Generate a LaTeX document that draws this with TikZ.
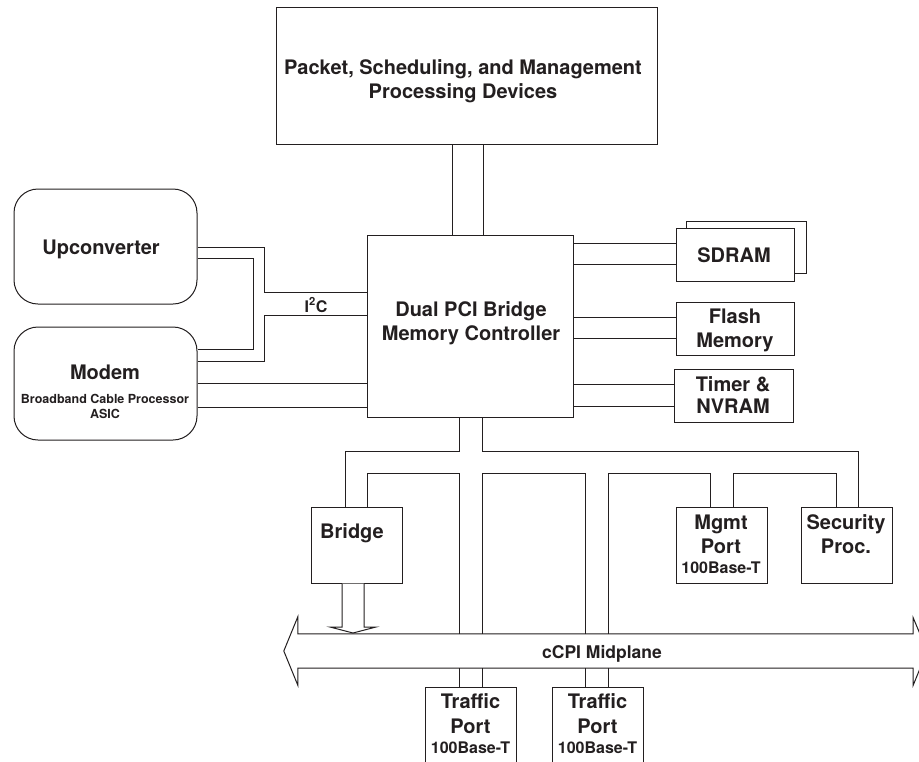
\documentclass[tikz,border=0pt]{standalone}
\usepackage{fontspec}
\setmainfont{TeX Gyre Heros}
\usetikzlibrary{calc}
\definecolor{ink}{RGB}{35,31,32}
\begin{document}
\begin{tikzpicture}[x=1pt,y=-1pt,
  wire/.style={draw=ink, line width=1pt},
  box/.style={draw=ink, line width=1pt, fill=white, rectangle, inner sep=0pt},
  rbox/.style={box, rounded corners=24pt},
  big/.style={font=\bfseries\fontsize{20}{24}\selectfont, text=ink, inner sep=0pt, anchor=base},
  midl/.style={font=\bfseries\fontsize{17.5}{21}\selectfont, text=ink, inner sep=0pt, anchor=base},
  sml/.style={font=\bfseries\fontsize{16}{19}\selectfont, text=ink, inner sep=0pt, anchor=base},
  tny/.style={font=\bfseries\fontsize{12.5}{15}\selectfont, text=ink, inner sep=0pt, anchor=base},
  i2c/.style={font=\bfseries\fontsize{16}{19}\selectfont, text=ink, inner sep=0pt, anchor=base}]
\useasboundingbox (0,0) rectangle (919,761);
\clip (0,0) rectangle (919,761);

% boxes
\node[box, minimum width=381, minimum height=137] (top) at (466.5,75.5) {};
\node[box, minimum width=206, minimum height=182] (ctrl) at (470,326) {};
\node[rbox, minimum width=183, minimum height=115] (up) at (105.5,246.5) {};
\node[rbox, minimum width=183, minimum height=113] (modem) at (105.5,383.5) {};
\node[box, minimum width=120, minimum height=52] (sdramb) at (746,247) {};
\node[box, minimum width=118, minimum height=53] (sdram) at (735,254.5) {};
\node[box, minimum width=118, minimum height=53] (flash) at (735,328.5) {};
\node[box, minimum width=119, minimum height=53] (timer) at (733.5,395.5) {};
\node[box, minimum width=91, minimum height=76] (bridge) at (356.5,545) {};
\node[box, minimum width=91, minimum height=76] (mgmt) at (721.5,545) {};
\node[box, minimum width=91, minimum height=76] (sec) at (846.5,545) {};
\node[box, minimum width=91, minimum height=100] (tp1) at (470.5,737) {};
\node[box, minimum width=91, minimum height=100] (tp2) at (597.5,737) {};
\node[inner sep=0pt, minimum width=615, minimum height=34] (mid) at (605.5,651) {};

% texts
\node[big] (t1) at (463,74) {Packet, Scheduling, and Management};
\node[big] (t2) at (463,98) {Processing Devices};
\node[big] (c1) at (471,316) {Dual PCI Bridge};
\node[big] (c2) at (471,340) {Memory Controller};
\node[big] (u1) at (101,254) {Upconverter};
\node[big] (m1) at (105,379) {Modem};
\node[tny] (m2) at (105,403.5) {Broadband Cable Processor};
\node[tny] (m3) at (105,418) {ASIC};
\node[big] (s1) at (734,262) {SDRAM};
\node[big] (f1) at (735,323) {Flash};
\node[big] (f2) at (735,347) {Memory};
\node[big] (n1) at (733,391) {Timer \&};
\node[big] (n2) at (733,413) {NVRAM};
\node[big] (b1) at (352,538) {Bridge};
\node[big] (g1) at (721,529) {Mgmt};
\node[big] (g2) at (721,553) {Port};
\node[sml] (g3) at (721,573) {100Base-T};
\node[big] (e1) at (846,529) {Security};
\node[big] (e2) at (846,553) {Proc.};
\node[big] (p1) at (470.5,708) {Traffic};
\node[big] (p2) at (470.5,733) {Port};
\node[sml] (p3) at (470.5,753) {100Base-T};
\node[big] (q1) at (597.5,708) {Traffic};
\node[big] (q2) at (597.5,733) {Port};
\node[sml] (q3) at (597.5,753) {100Base-T};
\node[i2c] (ic) at (316,312) {I\textsuperscript{2}C};

% midplane arrow
\draw[wire, fill=white] ($(mid.west)+(-14,0)$) -- ($(mid.north west)+(0,-17)$) -- (mid.north west) -- (mid.north east) -- ($(mid.north east)+(0,-16)$) -- ($(mid.east)+(14,0)$) -- ($(mid.south east)+(0,17)$) -- (mid.south east) -- (mid.south west) -- ($(mid.south west)+(0,17)$) -- cycle;
\node[midl] (ml) at (602,658) {cCPI Midplane};

% top to controller
\draw[wire] (top.south -| 452,0) -- (ctrl.north -| 452,0);
\draw[wire] (top.south -| 483,0) -- (ctrl.north -| 483,0);

% left side
\draw[wire] (up.east |- 0,247) -| (264,292) -- (ctrl.west |- 0,292);
\draw[wire] (up.east |- 0,258) -| (253,349) -- (modem.east |- 0,349);
\draw[wire] (modem.east |- 0,361) -| (264,315) -- (ctrl.west |- 0,315);
\draw[wire] (modem.east |- 0,383) -- (ctrl.west |- 0,383);
\draw[wire] (modem.east |- 0,407) -- (ctrl.west |- 0,407);

% right side
\draw[wire] (ctrl.east |- 0,243) -- (sdram.west |- 0,243);
\draw[wire] (ctrl.east |- 0,264) -- (sdram.west |- 0,264);
\draw[wire] (ctrl.east |- 0,317) -- (flash.west |- 0,317);
\draw[wire] (ctrl.east |- 0,338) -- (flash.west |- 0,338);
\draw[wire] (ctrl.east |- 0,384) -- (timer.west |- 0,384);
\draw[wire] (ctrl.east |- 0,406) -- (timer.west |- 0,406);

% bottom buses
\draw[wire] (ctrl.south -| 459,0) |- (345,451) -- (bridge.north -| 345,0);
\draw[wire] (bridge.north -| 367,0) |- (459,473) -- (mid.north -| 459,0);
\draw[wire] (ctrl.south -| 482,0) |- (858,451) -- (sec.north -| 858,0);
\draw[wire] (mid.north -| 482,0) |- (585,473) -- (mid.north -| 585,0);
\draw[wire] (mid.north -| 608,0) |- (710,473) -- (mgmt.north -| 710,0);
\draw[wire] (mgmt.north -| 733,0) |- (836,473) -- (sec.north -| 836,0);

% below midplane
\draw[wire] (mid.south -| 459,0) -- (tp1.north -| 459,0);
\draw[wire] (mid.south -| 482,0) -- (tp1.north -| 482,0);
\draw[wire] (mid.south -| 585,0) -- (tp2.north -| 585,0);
\draw[wire] (mid.south -| 608,0) -- (tp2.north -| 608,0);

% bridge arrow
\draw[wire, fill=white] (bridge.south -| 342,0) -- (342,627) -- (330,627) -- (353,633) -- (376,627) -- (364,627) -- (bridge.south -| 364,0);
\end{tikzpicture}
\end{document}
